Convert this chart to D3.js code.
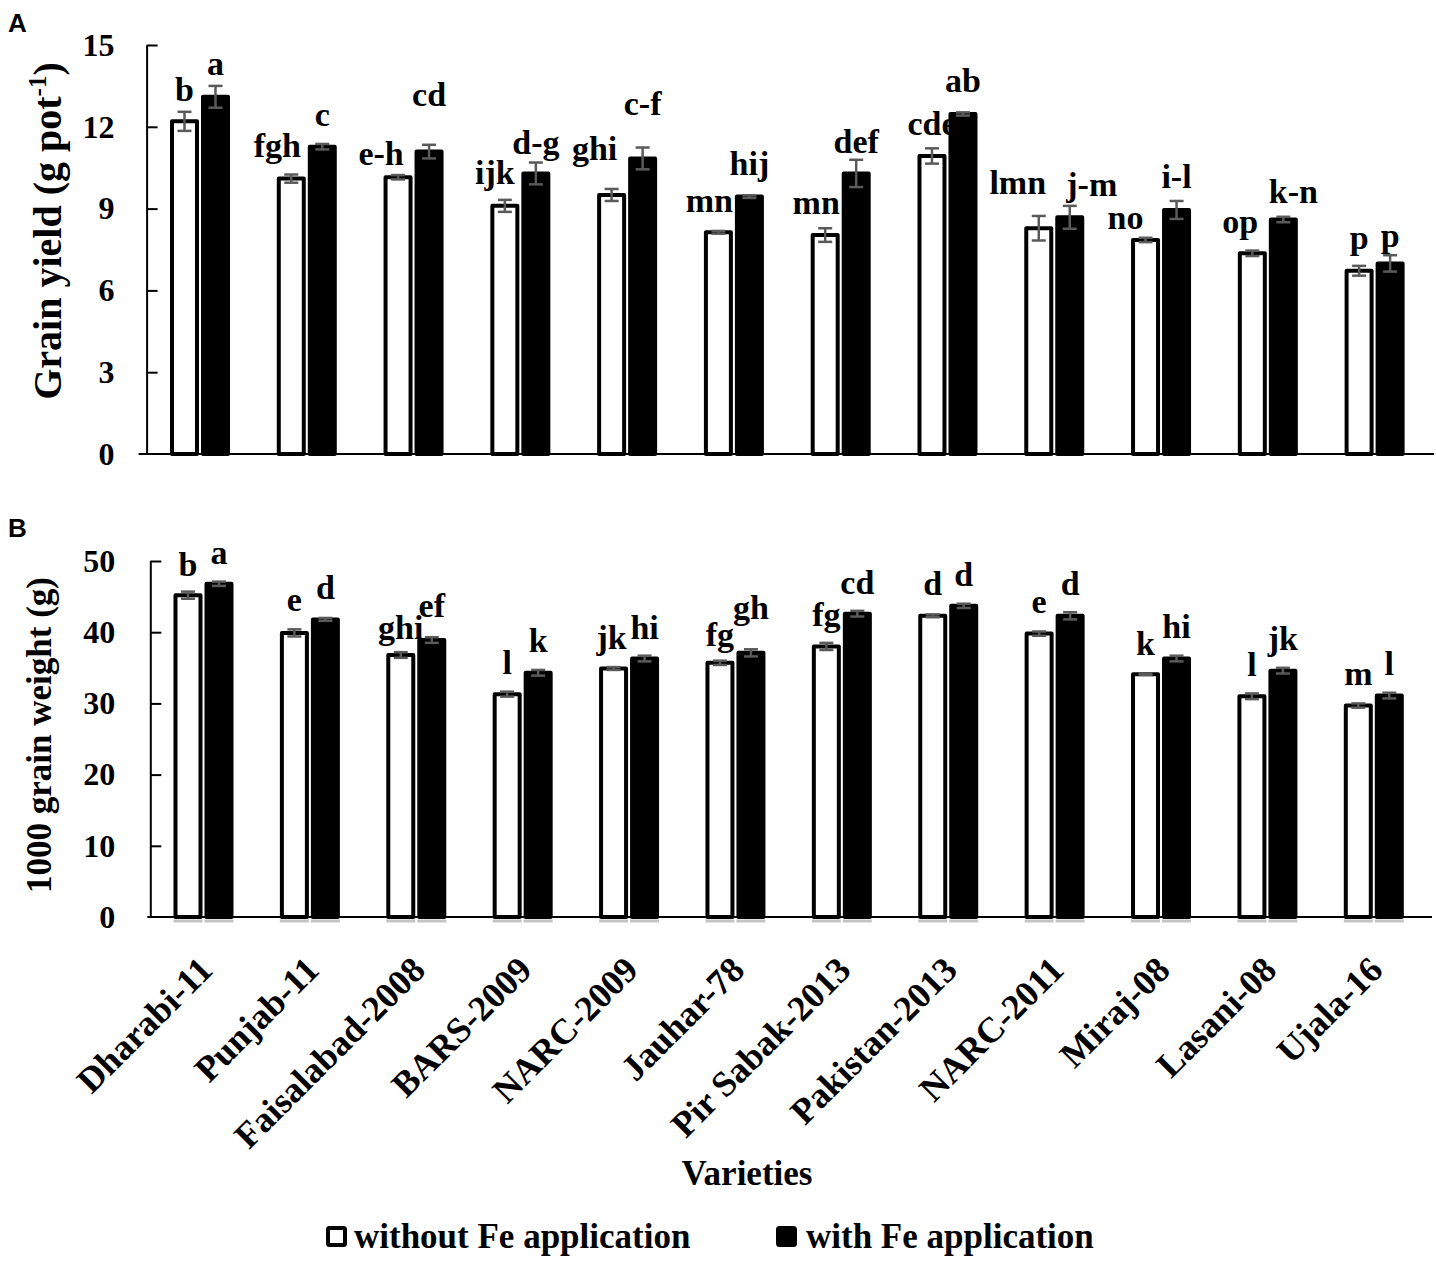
<!DOCTYPE html>
<html>
<head>
<meta charset="utf-8">
<script src="https://d3js.org/d3.v7.min.js"></script>
<style>
  body { margin: 0; background: #fff; }
  svg { display: block; }
  .serif { font-family: "Liberation Serif", "Times New Roman", serif; font-weight: bold; fill: #000; }
  .panel-letter { font-family: "Liberation Sans", Arial, sans-serif; font-weight: bold; font-size: 26px; }
  .axis path, .axis line { stroke: #000; stroke-width: 2; }
  .axis text { font-family: "Liberation Serif", "Times New Roman", serif; font-weight: bold; font-size: 32px; fill: #000; }
  .err { stroke: #5a5a5a; stroke-width: 2.5; }
</style>
</head>
<body>
<div id="chart"></div>
<script>
// ---- data ----
const varieties = ['Dharabi-11', 'Punjab-11', 'Faisalabad-2008', 'BARS-2009', 'NARC-2009', 'Jauhar-78',
                   'Pir Sabak-2013', 'Pakistan-2013', 'NARC-2011', 'Miraj-08', 'Lasani-08', 'Ujala-16'];

// panel A: grain yield (g pot-1)
const yieldWithout    = [12.2, 10.1, 10.15, 9.1, 9.5, 8.13, 8.03, 10.93, 8.28, 7.85, 7.36, 6.72];
const yieldWithoutErr = [0.35, 0.15, 0.08, 0.22, 0.22, 0.05, 0.25, 0.28, 0.45, 0.08, 0.1, 0.18];
const yieldWith       = [13.1, 11.27, 11.09, 10.29, 10.84, 9.44, 10.29, 12.47, 8.68, 8.95, 8.6, 6.99];
const yieldWithErr    = [0.4, 0.1, 0.25, 0.4, 0.4, 0.05, 0.5, 0.06, 0.42, 0.33, 0.1, 0.3];
const yieldLetWithout = ['b', 'fgh', 'e-h', 'ijk', 'ghi', 'mn', 'mn', 'cde', 'lmn', 'no', 'op', 'p'];
const yieldLetWith    = ['a', 'c', 'cd', 'd-g', 'c-f', 'hij', 'def', 'ab', 'j-m', 'i-l', 'k-n', 'p'];
const yieldTicks = [0, 3, 6, 9, 12, 15];

// panel B: 1000 grain weight (g)
const tgwWithout    = [45.2, 39.9, 36.8, 31.3, 34.9, 35.7, 38.0, 42.3, 39.8, 34.1, 31.0, 29.7];
const tgwWithoutErr = [0.5, 0.5, 0.4, 0.35, 0.2, 0.3, 0.5, 0.2, 0.3, 0.1, 0.4, 0.3];
const tgwWith       = [46.8, 41.8, 38.9, 34.3, 36.3, 37.1, 42.6, 43.7, 42.3, 36.3, 34.6, 31.1];
const tgwWithErr    = [0.3, 0.2, 0.4, 0.4, 0.4, 0.5, 0.4, 0.3, 0.5, 0.4, 0.4, 0.4];
const tgwLetWithout = ['b', 'e', 'ghi', 'l', 'jk', 'fg', 'fg', 'd', 'e', 'k', 'l', 'm'];
const tgwLetWith    = ['a', 'd', 'ef', 'k', 'hi', 'gh', 'cd', 'd', 'd', 'hi', 'jk', 'l'];
const tgwTicks = [0, 10, 20, 30, 40, 50];

const seriesNames = ['without Fe application', 'with Fe application'];

// ---- layout: letter nudges [dx, gap above error bar] in px ----
const nudgeAWithout = [[0,11],[-14,18],[-17,10],[-10,16],[-17,29],[-9,19],[-9,14],[0,13],[-21,22],[-20,9],[-12,18],[0,17]];
const nudgeAWith    = [[0,11],[0,18],[0,39],[0,9],[0,33],[0,20],[0,7],[0,20],[22,10],[0,13],[10,14],[0,8]];
const nudgeBWithout = [[0,16],[0,18],[0,13],[0,18],[-2,18],[0,15],[0,17],[0,19],[0,18],[0,18],[0,17],[0,18]];
const nudgeBWith    = [[0,18],[0,19],[0,20],[0,18],[0,17],[0,30],[0,17],[0,18],[0,17],[0,18],[0,18],[0,18]];

const W = 1436, H = 1261;
const svg = d3.select('#chart').append('svg').attr('width', W).attr('height', H);

function drawPanel(p) {
  const x = d3.scaleBand().domain(varieties).range(p.xRange).paddingInner(0).paddingOuter(0);
  const y = d3.scaleLinear().domain(p.domain).range(p.yRange);
  const g = svg.append('g');
  const barW = 25, off = 15.5;

  // y axis, ticks pointing inward
  g.append('g')
    .attr('class', 'axis')
    .attr('transform', `translate(${p.xRange[0]},0)`)
    .call(d3.axisLeft(y).tickValues(p.ticks).tickSizeInner(-11).tickSizeOuter(0).tickPadding(p.tickPad))
    .call(s => s.selectAll('.tick').filter(d => d === 0).select('line').remove());

  // x axis line
  g.append('line')
    .attr('x1', p.xRange[0] - p.axisLeftExt).attr('x2', p.xEnd)
    .attr('y1', y(0)).attr('y2', y(0))
    .attr('stroke', '#000').attr('stroke-width', 2);

  const series = [
    { vals: p.without, err: p.withoutErr, lets: p.letWithout, nudge: p.nudgeWithout, fill: '#fff', dx: -off },
    { vals: p.with, err: p.withErr, lets: p.letWith, nudge: p.nudgeWith, fill: '#000', dx: off }
  ];

  series.forEach(s => {
    const cx = (d, i) => x(varieties[i]) + x.bandwidth() / 2 + s.dx;
    if (p.baseShade) {
      g.append('g').selectAll('line').data(s.vals).join('line')
        .attr('x1', (d, i) => cx(d, i) - barW / 2 - 2).attr('x2', (d, i) => cx(d, i) + barW / 2 + 2)
        .attr('y1', y(0) + 4).attr('y2', y(0) + 4)
        .attr('stroke', '#c4c4c4').attr('stroke-width', 3);
    }
    // letters first so that the black bar hides any overlap, as in the figure
    g.append('g').selectAll('text').data(s.vals).join('text')
      .attr('class', 'serif')
      .attr('font-size', 34)
      .attr('text-anchor', 'middle')
      .attr('x', (d, i) => cx(d, i) + s.nudge[i][0])
      .attr('y', (d, i) => y(d + s.err[i]) - s.nudge[i][1])
      .text((d, i) => s.lets[i]);
  });

  series.forEach(s => {
    const cx = (d, i) => x(varieties[i]) + x.bandwidth() / 2 + s.dx;
    g.append('g').selectAll('rect').data(s.vals).join('rect')
      .attr('x', (d, i) => cx(d, i) - barW / 2)
      .attr('y', d => y(d))
      .attr('width', barW)
      .attr('height', d => y(0) - y(d))
      .attr('fill', s.fill)
      .attr('stroke', '#000').attr('stroke-width', 4).attr('stroke-linejoin', 'round');

    const eb = g.append('g').selectAll('g').data(s.vals).join('g').attr('class', 'err');
    eb.append('line')
      .attr('x1', (d, i) => cx(d, i)).attr('x2', (d, i) => cx(d, i))
      .attr('y1', (d, i) => y(d - s.err[i])).attr('y2', (d, i) => y(d + s.err[i]));
    [-1, 1].forEach(sgn => {
      eb.append('line')
        .attr('x1', (d, i) => cx(d, i) - 7).attr('x2', (d, i) => cx(d, i) + 7)
        .attr('y1', (d, i) => y(d + sgn * s.err[i])).attr('y2', (d, i) => y(d + sgn * s.err[i]));
    });
  });

  // y title
  const t = svg.append('text')
    .attr('class', 'serif')
    .attr('font-size', p.titleSize)
    .attr('text-anchor', 'middle')
    .attr('transform', `translate(${p.titleX},${p.titleY}) rotate(-90)`);
  p.title(t);

  svg.append('text').attr('class', 'panel-letter').attr('x', 8).attr('y', p.letterY).text(p.letter);
  return x;
}

drawPanel({
  letter: 'A', letterY: 32,
  xRange: [146.6, 1428], xEnd: 1434, axisLeftExt: 8,
  domain: [0, 15], yRange: [454, 45], ticks: yieldTicks, tickPad: 32,
  without: yieldWithout, withoutErr: yieldWithoutErr, with: yieldWith, withErr: yieldWithErr,
  letWithout: yieldLetWithout, letWith: yieldLetWith,
  nudgeWithout: nudgeAWithout, nudgeWith: nudgeAWith,
  titleX: 61, titleY: 231, titleSize: 40,
  title: t => {
    t.append('tspan').text('Grain yield (g pot');
    t.append('tspan').attr('font-size', 25).attr('dy', -15).text('-1');
    t.append('tspan').attr('dy', 15).text(')');
  }
});

const xB = drawPanel({
  letter: 'B', letterY: 537,
  xRange: [150.3, 1427], xEnd: 1432, axisLeftExt: 3, baseShade: true,
  domain: [0, 50], yRange: [917, 561], ticks: tgwTicks, tickPad: 35,
  without: tgwWithout, withoutErr: tgwWithoutErr, with: tgwWith, withErr: tgwWithErr,
  letWithout: tgwLetWithout, letWith: tgwLetWith,
  nudgeWithout: nudgeBWithout, nudgeWith: nudgeBWith,
  titleX: 51, titleY: 735, titleSize: 35,
  title: t => t.text('1000 grain weight (g)')
});

// category labels under panel B
svg.append('g').selectAll('text').data(varieties).join('text')
  .attr('class', 'serif')
  .attr('font-size', 36)
  .attr('text-anchor', 'end')
  .attr('transform', d => `translate(${xB(d) + xB.bandwidth() / 2 + 11},972) rotate(-45)`)
  .text(d => d);

svg.append('text')
  .attr('class', 'serif').attr('font-size', 35).attr('text-anchor', 'middle')
  .attr('x', 747).attr('y', 1185).text('Varieties');

// legend
const legX = [326, 776];
const leg = svg.append('g').selectAll('g').data(seriesNames).join('g')
  .attr('transform', (d, i) => `translate(${legX[i]},1226)`);
leg.append('rect')
  .attr('x', 2).attr('y', 2).attr('width', 17).attr('height', 17).attr('rx', 1.5)
  .attr('fill', (d, i) => i === 0 ? '#fff' : '#000')
  .attr('stroke', '#000').attr('stroke-width', 4);
leg.append('text')
  .attr('class', 'serif').attr('font-size', 35)
  .attr('x', (d, i) => i === 0 ? 28 : 30).attr('y', 22)
  .text(d => d);
</script>
</body>
</html>
